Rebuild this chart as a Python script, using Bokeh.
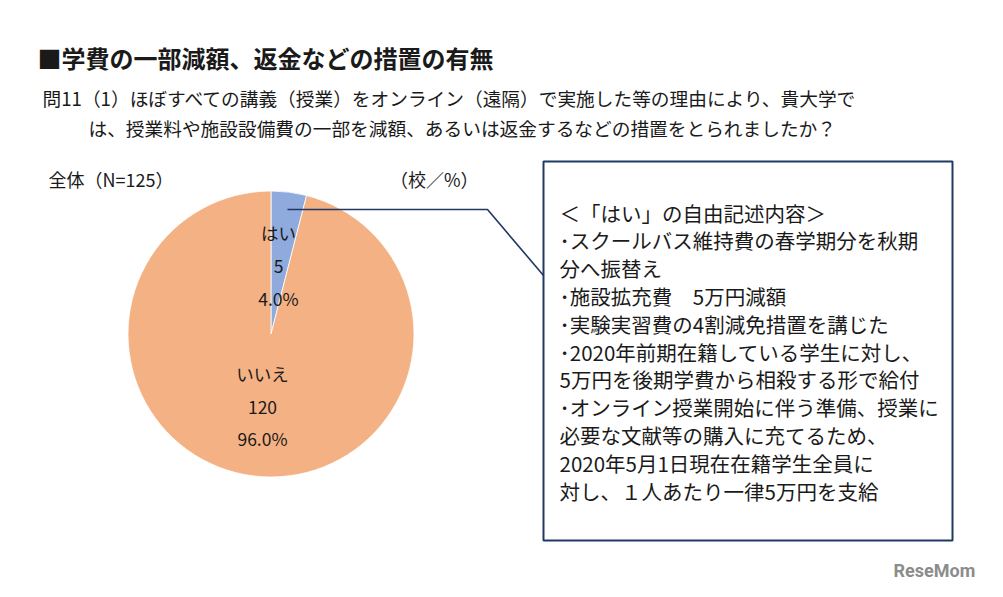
import math
from bokeh.plotting import figure
from bokeh.models import Range1d, ColumnDataSource
from bokeh.core.properties import value
from bokeh.embed import file_html
from bokeh.resources import INLINE

# ---- data ----
categories = ["はい", "いいえ"]
counts = [5, 120]
pct_labels = ["4.0%", "96.0%"]
colors = ["#8FAADC", "#F4B183"]

title = "■学費の一部減額、返金などの措置の有無"
question = [
    "問11（1）ほぼすべての講義（授業）をオンライン（遠隔）で実施した等の理由により、貴大学で",
    "は、授業料や施設設備費の一部を減額、あるいは返金するなどの措置をとられましたか？",
]
total_label = "全体（N=125）"
unit_label = "（校／%）"
box_lines = [
    "＜「はい」の自由記述内容＞",
    "･スクールバス維持費の春学期分を秋期",
    "分へ振替え",
    "･施設拡充費　5万円減額",
    "･実験実習費の4割減免措置を講じた",
    "･2020年前期在籍している学生に対し、",
    "5万円を後期学費から相殺する形で給付",
    "･オンライン授業開始に伴う準備、授業に",
    "必要な文献等の購入に充てるため、",
    "2020年5月1日現在在籍学生全員に",
    "対し、１人あたり一律5万円を支給",
]

FONT = value("Noto Sans CJK JP")
NAVY = "#1F3864"
TXT = "#1a1a1a"

W, H = 987, 581
p = figure(width=W, height=H, output_backend="svg", toolbar_location=None,
           x_range=Range1d(0, W), y_range=Range1d(-H, 0),
           min_border=0)
p.axis.visible = False
p.grid.visible = False
p.outline_line_color = None
p.background_fill_color = "white"

# ---- pie ----
total = sum(counts)
starts, ends = [], []
acc = 0
for c in counts:
    starts.append(math.pi / 2 - 2 * math.pi * acc / total)
    acc += c
    ends.append(math.pi / 2 - 2 * math.pi * acc / total)
src = ColumnDataSource(dict(cat=categories, cnt=counts, start=starts, end=ends, color=colors))
cx, cy, r = 270.5, -333.5, 143
p.wedge(x=cx, y=cy, radius=r, start_angle="start", end_angle="end", direction="clock",
        fill_color="color", line_color="white", line_width=0.8, source=src)

# pie labels
lab_x = [278, 262]
lab_y = [[-232, -266, -298], [-373, -407, -438]]
for i in range(len(categories)):
    texts = [categories[i], str(counts[i]), pct_labels[i]]
    p.text(x=[lab_x[i]] * 3, y=lab_y[i], text=texts, text_font=FONT,
           text_font_size="17.5px", text_align="center", text_baseline="middle",
           text_color=TXT)

# ---- titles ----
p.text(x=[37], y=[-57], text=[title], text_font=FONT, text_font_size="24px",
       text_font_style="bold", text_baseline="middle", text_color=TXT)
p.text(x=[42, 88], y=[-97, -127], text=question, text_font=FONT, text_font_size="18.7px",
       text_baseline="middle", text_color=TXT)
p.text(x=[48], y=[-178], text=[total_label], text_font=FONT, text_font_size="18px",
       text_baseline="middle", text_color=TXT)
p.text(x=[478], y=[-178], text=[unit_label], text_font=FONT, text_font_size="18px",
       text_align="right", text_baseline="middle", text_color=TXT)

# ---- leader line and box ----
p.line(x=[287, 487, 543], y=[-209, -209, -275], line_color=NAVY, line_width=1.6)
p.quad(left=[543], right=[952], top=[-161], bottom=[-540], fill_color=None,
       line_color=NAVY, line_width=2)
ys = [-(212 + 27.8 * i) for i in range(len(box_lines))]
p.text(x=[559] * len(box_lines), y=ys, text=box_lines, text_font=FONT,
       text_font_size="20.5px", text_baseline="middle", text_color=TXT)

# ---- watermark ----
p.text(x=[893], y=[-570], text=["ReseMom"], text_font=value("Roboto"),
       text_font_size="18px", text_font_style="bold", text_baseline="middle",
       text_color="#8c8c8c")

open("out.html", "w").write(file_html(p, INLINE))
